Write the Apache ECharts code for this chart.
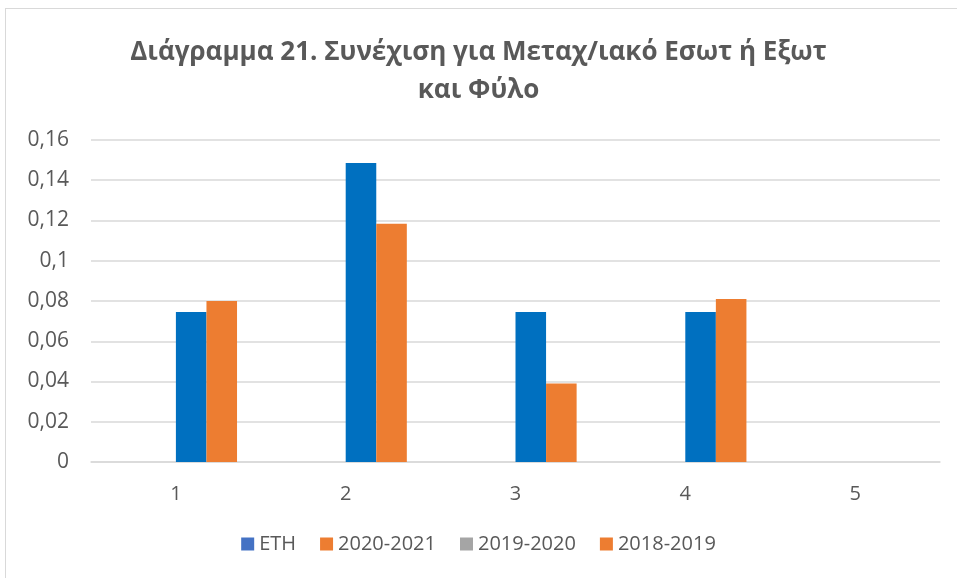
<!DOCTYPE html>
<html>
<head>
<meta charset="utf-8">
<script src="https://cdn.jsdelivr.net/npm/echarts@6/dist/echarts.min.js"></script>
<style>
  html, body { margin: 0; padding: 0; background: #fff; }
  #main { position: absolute; left: 0; top: 0; width: 957px; height: 578px; }
  .frame { position: absolute; left: 5px; top: 8px; width: 960px; height: 580px; border: 1px solid #d9d9d9; box-sizing: border-box; }
</style>
</head>
<body>
<div class="frame"></div>
<div id="main"></div>
<script>
// κατηγορίες και τιμές
const categories = ['1', '2', '3', '4', '5']
const ethValues = [0.0745, 0.1486, 0.0745, 0.0745, null]
const y2021Values = [0.080, 0.1184, 0.039, 0.081, null]
const y2020Values = [null, null, null, null, null]
const y2019Values = [null, null, null, null, null]
const yTicks = [0, 0.02, 0.04, 0.06, 0.08, 0.1, 0.12, 0.14, 0.16]

const textColor = '#595959'
const font = 'Open Sans'

const myChart = echarts.init(document.getElementById('main'))

const option = {
  animation: false,
  title: {
    text: 'Διάγραμμα 21. Συνέχιση για Μεταχ/ιακό Εσωτ ή Εξωτ\nκαι Φύλο',
    left: 'center',
    top: 29,
    textStyle: {
      fontFamily: font,
      fontSize: 26,
      fontWeight: 'bold',
      color: textColor,
      lineHeight: 38
    }
  },
  legend: {
    bottom: 19,
    left: 'center',
    itemWidth: 13,
    itemHeight: 13,
    itemGap: 24,
    itemTextGap: 5,
    icon: 'rect',
    textStyle: { fontFamily: font, fontSize: 20, color: textColor },
    data: [
      { name: 'ΕΤΗ', itemStyle: { color: '#4472C4' } },
      { name: '2020-2021', itemStyle: { color: '#ED7D31' } },
      { name: '2019-2020', itemStyle: { color: '#A5A5A5' } },
      { name: '2018-2019', itemStyle: { color: '#ED7D31' } }
    ]
  },
  grid: {
    left: 91,
    right: 17,
    top: 140,
    bottom: 116
  },
  xAxis: {
    type: 'category',
    data: categories,
    axisLine: { lineStyle: { color: '#d9d9d9', width: 1.5 } },
    axisTick: { show: false },
    axisLabel: { fontFamily: font, fontSize: 20, color: textColor, margin: 22 }
  },
  yAxis: {
    type: 'value',
    min: 0,
    max: 0.16,
    interval: 0.02,
    axisLine: { show: false },
    axisTick: { show: false },
    splitLine: { lineStyle: { color: '#d9d9d9', width: 1.5 } },
    axisLabel: {
      fontFamily: font,
      fontSize: 21,
      color: textColor,
      margin: 22,
      formatter: function (v) {
        const t = yTicks.find(x => Math.abs(x - v) < 1e-9)
        return String(t !== undefined ? t : v).replace('.', ',')
      }
    }
  },
  series: [
    { name: '2019-2020', type: 'bar', data: y2020Values, itemStyle: { color: '#A5A5A5' }, barGap: '0%', barCategoryGap: '28%' },
    { name: '2018-2019', type: 'bar', data: y2019Values, itemStyle: { color: '#ED7D31' } },
    { name: 'ΕΤΗ', type: 'bar', data: ethValues, itemStyle: { color: '#0070C0' } },
    { name: '2020-2021', type: 'bar', data: y2021Values, itemStyle: { color: '#ED7D31' } }
  ]
}

myChart.setOption(option)
</script>
</body>
</html>
